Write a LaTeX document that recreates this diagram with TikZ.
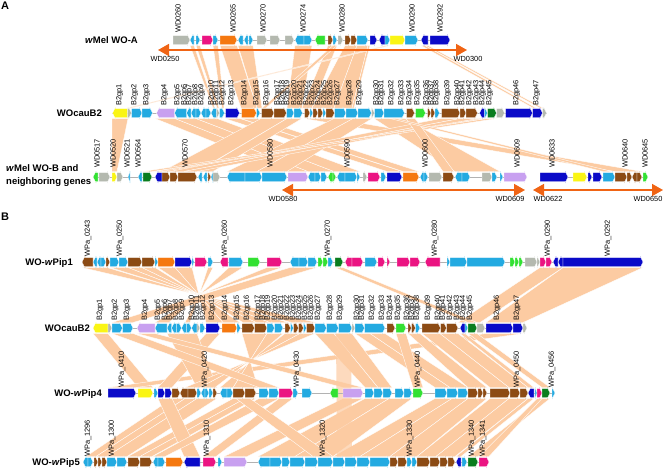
\documentclass[tikz,border=0pt]{standalone}
\usepackage{fontspec}
\setmainfont{Liberation Sans}
\usetikzlibrary{arrows.meta}
\definecolor{cy}{RGB}{35,170,225}
\definecolor{db}{RGB}{10,10,200}
\definecolor{br}{RGB}{140,75,20}
\definecolor{mg}{RGB}{235,20,130}
\definecolor{or}{RGB}{245,120,15}
\definecolor{gn}{RGB}{50,225,50}
\definecolor{dg}{RGB}{10,125,30}
\definecolor{ye}{RGB}{250,245,20}
\definecolor{lv}{RGB}{200,160,240}
\definecolor{gy}{RGB}{180,185,175}
\definecolor{oarr}{RGB}{240,100,20}
\definecolor{bandc}{RGB}{252,203,162}
\tikzset{
  lbl/.style={rotate=90,anchor=west,inner sep=0pt,font=\fontsize{7.4}{8}\selectfont},
  trk/.style={font=\bfseries\fontsize{9.5}{11}\selectfont,inner sep=0pt},
  band/.style={fill=bandc,draw=white,line width=0.35pt},
  vband/.style={fill=bandc,fill opacity=0.7},
  spine/.style={draw=gray!60,line width=1pt},
  oline/.style={draw=oarr,line width=1.6pt,{Triangle[length=11pt,width=12pt]}-{Triangle[length=11pt,width=12pt]}},
  alab/.style={font=\fontsize{7.4}{8}\selectfont,inner sep=0pt},
  panel/.style={font=\bfseries\fontsize{11}{12}\selectfont,inner sep=0pt,anchor=north west},
}
\newcommand\gene[5]{%
  \pgfmathsetmacro\xa{#2}\pgfmathsetmacro\xb{#3}%
  \pgfmathsetmacro\xt{min(3,\xb-\xa)}%
  \ifnum#5>0\relax
    \fill[fill=#4,draw=white,line width=0.25pt] (\xa,#1-4.5) -- (\xb-\xt,#1-4.5) -- (\xb-\xt,#1-6) -- (\xb,#1) -- (\xb-\xt,#1+6) -- (\xb-\xt,#1+4.5) -- (\xa,#1+4.5) -- cycle;
  \else
    \fill[fill=#4,draw=white,line width=0.25pt] (\xb,#1-4.5) -- (\xa+\xt,#1-4.5) -- (\xa+\xt,#1-6) -- (\xa,#1) -- (\xa+\xt,#1+6) -- (\xa+\xt,#1+4.5) -- (\xb,#1+4.5) -- cycle;
  \fi}
\newcommand\genes[3]{\edef\glist{#3}\foreach \pa/\pb/\pc/\pd in \glist {\gene{#1}{\pa+(#2)}{\pb+(#2)}{\pc}{\pd}}}
\newcommand\band[6]{\filldraw[band] (#2,#1) -- (#3,#1) -- (#6,#4) -- (#5,#4) -- cycle;}
\newcommand\bands[3]{\foreach \pa/\pb/\pc/\pd in {#3}{\band{#1}{\pa}{\pb}{#2}{\pc}{\pd}}}
\newcommand\cauBgenes{112.5/127.5/ye/-1, 127.5/131.5/gy/1, 131.5/142/cy/1, 142/152.5/cy/1, 156.5/174.5/lv/-1, 174.5/186.5/cy/-1, 186.5/191/cy/-1, 191/196/cy/-1, 196/201/cy/1, 201/206/cy/-1, 206/211/cy/1, 211/216.5/cy/-1, 216.5/219.5/gy/1, 219.5/224.5/cy/1, 225.5/239.5/db/1, 241.5/256.5/or/1, 256.5/260/cy/1, 261.5/274/br/1, 274/286.5/br/1, 286.5/294/cy/1, 294/302.5/cy/1, 304.5/310/br/1, 310/313/cy/1, 313/318/br/1, 318/323/br/1, 323/326/cy/1, 326/334.5/br/1, 334.5/346/cy/1, 346/358/cy/1, 358/371.5/cy/1, 371.5/374.5/gy/1, 374.5/384/cy/1, 384/404.5/cy/1, 406.5/414.5/br/1, 415.5/425.5/gn/1, 427.5/431/br/1, 431/435/br/1, 435/439.5/cy/1, 441.5/460/br/1, 460/466/br/1, 466/477.5/br/1, 479.5/484.5/db/-1, 484.5/487.5/cy/1, 487.5/496.5/dg/1, 496.5/504.5/gy/1, 505.5/532.5/db/1, 532.5/542.5/db/1, 542.5/546.5/gy/1}
\newcommand\cauBlabx{100,115,127,145,158,165,170,176,182,192,197,203,212,225,237,247,258,263,268,275,281,287,293,299,305,311,318,330,340,357,362,372,382,390,398,407,412,417,428,438,443,450,457,463,470,497,517}
\begin{document}
\begin{tikzpicture}[x=1pt,y=-1pt]
\useasboundingbox (0,0) rectangle (664,471);
% ---------- synteny bands ----------
\bands{45.5}{108}{220/237/241/257, 190/194/213/215, 196/200/217/219, 213/218/222/224, 238/253/257/262, 295/312/287/302, 328/337/302/312, 345/357/312/334, 357/368/334/352, 386/390/127/131, 421/425/533/536, 425/428/540/543, 333/337/262/266, 368/370/352/354}
\bands{118.5}{171.5}{112/128/112/117, 155/175/288/308, 175/196/308/334, 196/217/334/360, 225/240/387/402, 241/257/403/419, 261/287/162/197, 287/302/198/213, 304/334/615/642, 334/353/227/257, 353/372/257/287, 374/405/455/500, 441/460/170/184, 460/478/184/197, 479/485/155/162, 487/497/143/152, 406/415/443/454, 390/396/603/612}
\bands{267.5}{322.5}{175/192/223/206, 158/175/240/223, 128/142/270/256, 142/155/256/243, 110/128/288/270, 82/107/316/291, 208/213/190/185, 229/243/169/155, 267/282/131/116, 290/317/112/133, 563/643/486/523, 540/563/458/480, 335/343/468/477}
\bands{333.5}{387.5}{93/108/138/153, 486/523/108/136, 206/220/158/172, 242/267/258/233, 167/197/197/217, 285/300/215/200, 300/315/200/185, 267/283/233/220, 137/155/343/363, 112/133/259/279, 315/334/365/378, 334/352/378/392, 355/370/435/450, 370/385/450/468, 396/406/413/423, 422/440/490/509, 440/458/509/528, 408/420/468/487, 468/477/542/550, 460/465/528/534}
\bands{398.5}{456.5}{172/185/86/96, 185/197/96/107, 197/217/107/127, 233/245/128/140, 245/256/140/152, 158/172/184/200, 259/279/153/165, 279/293/203/216, 343/363/224/247, 365/389/258/295, 389/412/295/333, 435/452/333/360, 452/468/360/390, 468/487/390/417, 490/509/417/436, 509/528/436/455, 528/534/456/461, 542/550/468/478, 537/542/479/489, 236/250/313/333}
\fill[vband] (336,333.5) -- (351,333.5) -- (352,456.5) -- (337,456.5) -- cycle;
% ---------- spines ----------
\draw[spine] (173,40) -- (450,40);
\draw[spine] (112,113) -- (547,113);
\draw[spine] (93,177) -- (527,177);
\draw[spine] (540,177) -- (648,177);
\draw[spine] (82,262) -- (643,262);
\draw[spine] (93,328) -- (527,328);
\draw[spine] (108,393) -- (555,393);
\draw[spine] (83,462) -- (489,462);
% ---------- genes ----------
\genes{40}{0}{173/190/gy/1, 190/194/cy/-1, 196/200/cy/1, 202/213/mg/1, 213/218/cy/1, 220/237/or/1, 238/243/cy/-1, 244/248/cy/-1, 249/253/cy/1, 257/267/gy/1, 270/280/gy/1, 285/294/gy/1, 295/304/cy/-1, 304/312/cy/1, 315/325/gn/-1, 328/333/br/1, 333/337/cy/1, 338/343/gy/1, 345/351/br/1, 351/357/br/1, 357/368/cy/1, 370/377/db/1, 379/385/db/-1, 385/390/cy/1, 390/405/ye/1, 405/418/cy/1, 421/428/db/-1, 430/450/db/1}
\genes{113}{0}{\cauBgenes}
\genes{328}{-19.5}{\cauBgenes}
\genes{177}{0}{93/98/gn/-1, 99/110/gy/1, 112/117/ye/1, 117/123/gy/1, 128/130/cy/-1, 138/142/cy/-1, 143/152/dg/1, 155/162/db/-1, 162/170/br/1, 170/178/br/1, 178/197/br/1, 198/202/cy/-1, 203/207/cy/-1, 208/211/br/1, 211/213/cy/-1, 213/220/gy/1, 227/245/cy/-1, 245/262/cy/1, 262/287/cy/1, 288/308/lv/1, 308/315/cy/-1, 315/321/cy/1, 321/327/cy/1, 328/333/gn/-1, 333/336/gn/1, 337/345/cy/-1, 345/357/cy/1, 357/360/cy/1, 363/367/gy/1, 368/380/mg/1, 381/386/cy/1, 387/402/db/1, 403/419/or/1, 420/424/cy/-1, 424/428/cy/1, 429/442/gy/1, 443/454/br/1, 455/462/cy/-1, 462/470/cy/1, 482/492/gy/1, 492/497/cy/1, 500/503/cy/1, 504/527/lv/1, 540/568/db/1, 573/587/ye/1, 588/592/db/1, 593/602/db/1, 603/615/cy/1, 615/627/br/1, 627/632/br/1, 632/637/br/-1, 637/642/br/1, 643/648/gn/1}
\genes{262}{0}{82/93/br/-1, 93/97/cy/-1, 97/101/cy/-1, 101/106/cy/1, 106/110/br/1, 110/119/cy/1, 119/128/cy/1, 128/142/br/1, 142/155/br/1, 155/158/cy/1, 158/175/or/1, 175/192/db/1, 192/194/cy/1, 195/207/mg/1, 208/213/cy/1, 220/228/mg/-1, 229/243/cy/1, 248/260/gn/1, 267/282/mg/1, 290/299/cy/-1, 299/308/cy/1, 308/317/cy/1, 318/323/gn/1, 323/328/gn/1, 328/333/cy/1, 335/343/dg/1, 345/352/mg/-1, 352/363/mg/1, 365/377/cy/1, 378/385/mg/1, 387/390/mg/1, 397/410/mg/1, 410/420/mg/1, 425/440/mg/-1, 447/450/cy/1, 450/467/cy/1, 467/505/cy/1, 510/515/gn/1, 515/519/gn/1, 519/523/gn/1, 525/537/gy/1, 537/540/gy/1, 540/546/mg/1, 546/552/mg/1, 553/558/db/-1, 558/563/db/-1, 563/643/db/1}
\genes{393}{0}{108/136/db/1, 138/153/ye/1, 154/158/cy/1, 158/165/db/1, 165/172/db/1, 172/180/br/1, 180/188/br/-1, 188/197/br/1, 197/201/cy/1, 201/205/cy/-1, 205/209/cy/1, 209/213/cy/1, 213/217/br/1, 220/227/cy/-1, 227/233/cy/1, 233/245/br/1, 245/256/br/1, 259/269/cy/1, 269/279/cy/1, 279/293/mg/1, 293/298/cy/1, 302/312/cy/1, 330/338/gn/-1, 343/363/lv/1, 365/374/cy/1, 374/383/cy/1, 383/392/cy/1, 395/404/cy/1, 404/412/cy/1, 413/423/gn/1, 435/447/cy/1, 447/458/cy/1, 458/468/cy/1, 468/478/br/1, 478/483/br/1, 483/487/br/1, 490/510/br/1, 510/520/br/1, 520/528/br/1, 528/534/db/-1, 535/537/cy/1, 537/542/mg/1, 542/550/dg/1, 552/555/cy/1}
\genes{462}{0}{83/88/cy/-1, 88/93/cy/1, 94/98/br/1, 98/102/br/1, 102/107/br/1, 107/117/cy/1, 117/127/cy/1, 128/140/br/1, 140/152/br/1, 153/158/cy/-1, 158/165/cy/1, 166/183/or/1, 184/200/db/-1, 203/216/mg/1, 218/222/cy/1, 224/247/lv/1, 258/270/cy/-1, 270/282/cy/1, 282/290/cy/1, 290/305/cy/1, 305/318/cy/1, 318/333/cy/1, 333/345/cy/1, 345/357/cy/1, 357/370/cy/1, 370/390/cy/1, 390/398/br/1, 398/407/br/1, 407/412/cy/1, 412/417/cy/1, 417/430/br/1, 430/440/br/1, 440/448/br/1, 448/455/br/1, 456/461/db/-1, 462/467/cy/1, 468/478/dg/1, 479/489/mg/1}
% ---------- orange extent arrows ----------
\coordinate (aL) at (158,50); \coordinate (aR) at (467,50);
\draw[oline] (aL) -- (aR);
\coordinate (bL) at (282,190); \coordinate (bR) at (525,190);
\draw[oline] (bL) -- (bR);
\coordinate (cL) at (533,190); \coordinate (cR) at (663,190);
\draw[oline] (cL) -- (cR);
\node[alab] (w250) at (165,58.5) {WD0250};
\node[alab] (w300) at (468,58.5) {WD0300};
\node[alab] (w580) at (283,199) {WD0580};
\node[alab] (w609) at (510,199) {WD0609};
\node[alab] (w622) at (548,199) {WD0622};
\node[alab] (w650) at (648,199) {WD0650};
% ---------- gene labels ----------
\foreach \px/\pt in {178/WD0260, 233/WD0265, 263/WD0270, 303/WD0274, 342/WD0280, 412/WD0290, 440/WD0292}
  {\node[lbl] (A\pt) at (\px,33) {\pt};}
\foreach \px [count=\i] in \cauBlabx {\node[lbl] (ca\i) at (\px+19.5,106) {B2gp\i};}
\foreach \px [count=\i] in \cauBlabx {\node[lbl] (cb\i) at (\px,321) {B2gp\i};}
\foreach \px/\pt in {97/WD0517, 113/WD0520, 127/WD0521, 138/WD0564, 185/WD0570, 270/WD0580, 347/WD0590, 425/WD0600, 517/WD0609, 552/WD0633, 625/WD0640, 645/WD0645}
  {\node[lbl] (B\pt) at (\px,168) {\pt};}
\foreach \px/\pt in {88/0243, 120/0250, 225/0260, 328/0270, 435/0280, 548/0290, 608/0292}
  {\node[lbl] (pa\pt) at (\px,257) {WPa\_\pt};}
\foreach \px/\pt in {122/0410, 205/0420, 297/0430, 418/0440, 517/0450, 552/0456}
  {\node[lbl] (pd\pt) at (\px,388) {WPa\_\pt};}
\foreach \px/\pt in {88/1296, 112/1300, 207/1310, 323/1320, 410/1330, 472/1340, 483/1341}
  {\node[lbl] (pe\pt) at (\px,457) {WPa\_\pt};}
% ---------- track names ----------
\node[trk,anchor=base east] (tA) at (138,43.5) {\textit{w}Mel WO-A};
\node[trk,anchor=base east] (tCa) at (102,116.5) {WOcauB2};
\node[trk,anchor=base west] (tB1) at (6,171.5) {\textit{w}Mel WO-B and};
\node[trk,anchor=base west] (tB2) at (6,184.5) {neighboring genes};
\node[trk,anchor=base east] (tP1) at (73,265.5) {WO-\textit{w}Pip1};
\node[trk,anchor=base east] (tCb) at (90,331.5) {WOcauB2};
\node[trk,anchor=base east] (tP4) at (102,396.5) {WO-\textit{w}Pip4};
\node[trk,anchor=base east] (tP5) at (80,465.5) {WO-\textit{w}Pip5};
\node[panel] (pA) at (1,2) {A};
\node[panel] (pB) at (1,213) {B};
\end{tikzpicture}
\end{document}
